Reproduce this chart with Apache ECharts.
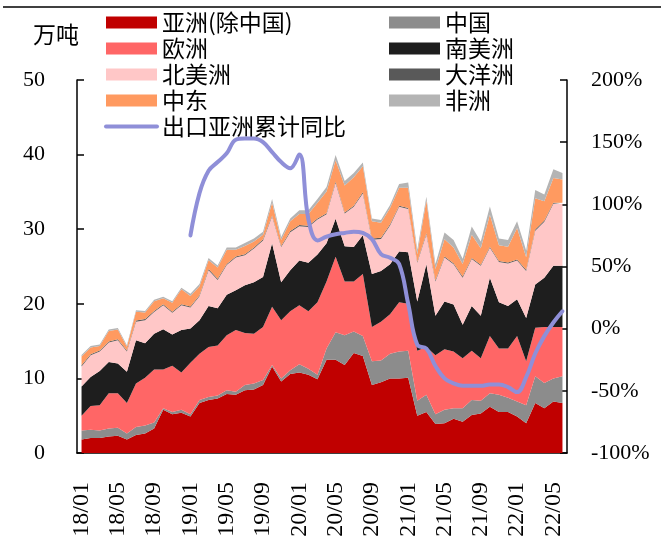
<!DOCTYPE html>
<html>
<head>
<meta charset="utf-8">
<script src="https://cdn.jsdelivr.net/npm/echarts@6/dist/echarts.min.js"></script>
<style>
  html, body { margin: 0; padding: 0; background: #fff; }
  #chart { width: 661px; height: 546px; }
</style>
</head>
<body>
<div id="chart"></div>
<script>
// Monthly categories, 2018/01 – 2022/06
const months = [
  '18/01','18/02','18/03','18/04','18/05','18/06','18/07','18/08','18/09','18/10','18/11','18/12',
  '19/01','19/02','19/03','19/04','19/05','19/06','19/07','19/08','19/09','19/10','19/11','19/12',
  '20/01','20/02','20/03','20/04','20/05','20/06','20/07','20/08','20/09','20/10','20/11','20/12',
  '21/01','21/02','21/03','21/04','21/05','21/06','21/07','21/08','21/09','21/10','21/11','21/12',
  '22/01','22/02','22/03','22/04','22/05','22/06'
];

// Export volume by destination (万吨), stacked bottom to top
const asiaExChina = [1.8,2.0,2.0,2.2,2.3,1.8,2.4,2.6,3.3,5.8,5.2,5.4,4.9,6.7,7.1,7.3,7.9,7.8,8.4,8.5,9.1,11.6,9.6,10.6,10.8,10.5,9.9,12.5,12.5,11.8,13.4,13.0,9.1,9.5,10.0,10.0,10.1,5.0,5.5,3.9,4.0,4.6,4.2,5.1,5.3,6.2,5.5,5.5,4.9,4.0,6.7,6.0,6.9,6.7];
const china       = [1.2,1.1,1.0,1.1,1.1,0.8,1.1,1.1,0.8,0.2,0.3,0.4,0.3,0.4,0.4,0.4,0.5,0.4,0.7,0.8,0.7,0.2,0.4,0.5,1.1,0.8,0.6,1.5,3.7,4.0,2.9,2.7,3.2,2.9,3.3,3.6,3.6,2.0,2.3,1.3,1.8,1.4,1.8,2.0,1.7,1.8,2.3,1.9,2.0,2.4,3.6,3.4,3.1,3.6];
const europe      = [2.0,3.2,3.4,4.7,4.6,4.1,5.8,6.4,7.1,5.2,6.2,5.0,6.9,6.2,6.7,6.7,7.4,8.3,7.0,6.7,7.1,7.8,7.8,7.9,7.9,7.7,9.7,9.0,10.1,7.2,6.7,8.3,4.6,5.2,5.3,6.6,6.3,6.7,6.4,7.9,8.1,7.6,6.7,6.6,5.7,7.7,6.2,6.6,8.8,5.9,6.5,7.5,6.9,6.6];
const southAm     = [3.9,3.9,4.6,4.2,4.0,4.2,5.8,4.6,4.8,5.4,4.2,5.7,4.6,4.5,5.5,5.0,5.4,5.3,6.4,6.9,6.7,8.5,5.1,5.5,6.0,6.5,6.4,5.1,5.1,4.7,4.6,5.2,7.1,6.8,6.7,6.8,6.9,6.6,11.1,5.3,6.4,6.3,4.5,6.0,5.7,7.8,6.2,5.7,4.9,5.8,5.8,6.6,8.2,8.2];
const northAm     = [2.7,2.9,2.6,2.6,3.1,2.7,2.5,3.1,2.9,3.2,2.9,3.3,2.8,3.2,4.8,3.8,4.0,4.4,4.0,4.5,4.9,3.6,4.7,5.1,4.6,4.8,4.7,3.9,4.8,4.4,5.4,5.6,4.6,4.3,5.2,6.0,5.8,5.2,4.0,4.6,5.9,5.4,6.3,6.3,6.7,4.0,5.4,5.7,5.2,6.3,7.2,7.5,8.3,8.3];
const oceania     = [0.15,0.15,0.15,0.15,0.15,0.15,0.15,0.15,0.15,0.15,0.15,0.15,0.15,0.15,0.15,0.15,0.15,0.15,0.15,0.15,0.15,0.15,0.15,0.15,0.15,0.15,0.15,0.15,0.15,0.15,0.15,0.15,0.15,0.15,0.15,0.15,0.15,0.15,0.15,0.15,0.15,0.15,0.15,0.15,0.15,0.15,0.15,0.15,0.15,0.15,0.15,0.15,0.15,0.15];
const middleEast  = [1.2,0.9,0.6,1.4,1.3,0.5,1.2,0.9,1.3,0.8,1.2,2.0,1.4,1.2,1.2,1.5,1.9,0.9,1.1,0.8,0.6,1.7,0.8,1.3,1.5,1.6,2.1,2.9,2.9,3.6,3.8,3.5,2.3,2.0,2.2,2.4,2.7,1.0,4.4,1.5,2.3,2.1,1.7,3.1,2.2,4.3,2.1,2.1,4.2,1.7,4.2,2.6,3.3,3.1];
const africa      = [0.2,0.2,0.2,0.2,0.2,0.2,0.2,0.2,0.2,0.2,0.2,0.2,0.3,0.3,0.3,0.3,0.3,0.3,0.4,0.4,0.4,0.5,0.4,0.4,0.5,0.5,0.5,0.6,0.7,0.6,0.6,0.5,0.4,0.4,0.4,0.5,0.7,0.6,0.5,0.7,0.9,1.0,0.7,1.1,0.9,1.1,0.9,0.9,0.9,0.9,1.1,0.9,1.2,0.9];

// Cumulative year-on-year growth of exports to Asia (%), starting 2019/01
const asiaYoY = [null,null,null,null,null,null,null,null,null,null,null,null,
  75,109,127,134,141,152,153,153,150,142,134,129,
  140,88,71,74,76,77,78,77,72,60,57,52,
  20,-13,-16,-30,-40,-44,-46,-46,-46,-45,-45,-47,
  -51,-39,-20,-6,5,14];

// Left axis and right axis ticks
const leftTicks  = { min: 0, max: 50, step: 10 };
const rightTicks = { min: -100, max: 200, step: 50 };

const areaSeries = [
  { name: '亚洲(除中国)', data: asiaExChina, color: '#C00000' },
  { name: '中国',         data: china,       color: '#8C8C8C' },
  { name: '欧洲',         data: europe,      color: '#FF6666' },
  { name: '南美洲',       data: southAm,     color: '#1E1E1E' },
  { name: '北美洲',       data: northAm,     color: '#FFC7C7' },
  { name: '大洋洲',       data: oceania,     color: '#595959' },
  { name: '中东',         data: middleEast,  color: '#FF9A60' },
  { name: '非洲',         data: africa,      color: '#B4B4B4' }
];
const lineName = '出口亚洲累计同比';
const lineColor = '#8F8FD8';

const numFont = 'Liberation Serif';
const cjkFont = 'Noto Sans CJK SC';

const chart = echarts.init(document.getElementById('chart'), null, { renderer: 'canvas' });

const series = areaSeries.map(s => ({
  name: s.name,
  type: 'line',
  stack: 'total',
  data: s.data,
  symbol: 'none',
  lineStyle: { width: 0 },
  areaStyle: { color: s.color, opacity: 1 },
  itemStyle: { color: s.color },
  emphasis: { disabled: true },
  z: 2
}));
series.push({
  name: lineName,
  type: 'line',
  yAxisIndex: 1,
  data: asiaYoY,
  smooth: 0.4,
  symbol: 'none',
  lineStyle: { width: 4, color: lineColor, cap: 'round' },
  itemStyle: { color: lineColor },
  emphasis: { disabled: true },
  z: 5
});

const legendText = { fontFamily: cjkFont, fontSize: 23, color: '#000', lineHeight: 22 };
const rectIcon = name => ({ name: name, icon: 'rect' });

chart.setOption({
  animation: false,
  backgroundColor: '#fff',
  grid: { left: 77, right: 94, top: 80, bottom: 93, containLabel: false },
  legend: [
    {
      orient: 'vertical', left: 99, top: 6, itemWidth: 51, itemHeight: 12, itemGap: 3,
      textStyle: legendText, selectedMode: false,
      data: [rectIcon('亚洲(除中国)'), rectIcon('欧洲'), rectIcon('北美洲'), rectIcon('中东'),
             { name: lineName, itemStyle: { opacity: 0 }, lineStyle: { width: 4, color: lineColor, cap: 'round' } }]
    },
    {
      orient: 'vertical', left: 384, top: 6, itemWidth: 51, itemHeight: 12, itemGap: 3,
      textStyle: legendText, selectedMode: false,
      data: [rectIcon('中国'), rectIcon('南美洲'), rectIcon('大洋洲'), rectIcon('非洲')]
    }
  ],
  xAxis: {
    type: 'category',
    data: months,
    boundaryGap: true,
    axisLine: { lineStyle: { color: '#000', width: 1.5 } },
    axisTick: { inside: true, interval: 3, length: 7, lineStyle: { color: '#000', width: 1.5 } },
    axisLabel: { interval: 3, rotate: 90, margin: 29, fontSize: 24, fontFamily: numFont, color: '#000' },
    splitLine: { show: false }
  },
  yAxis: [
    {
      type: 'value',
      min: leftTicks.min, max: leftTicks.max, interval: leftTicks.step,
      name: '万吨', nameLocation: 'end', nameGap: 34,
      nameTextStyle: { fontFamily: cjkFont, fontSize: 23, color: '#000', align: 'right', padding: [0, -2, 0, 0] },
      axisLine: { show: true, lineStyle: { color: '#000', width: 1.5 } },
      axisTick: { show: true, inside: true, length: 7, lineStyle: { color: '#000', width: 1.5 } },
      axisLabel: { margin: 32, fontSize: 22, fontFamily: numFont, color: '#000' },
      splitLine: { show: false }
    },
    {
      type: 'value',
      position: 'right',
      min: rightTicks.min, max: rightTicks.max, interval: rightTicks.step,
      axisLine: { show: true, lineStyle: { color: '#000', width: 1.5 } },
      axisTick: { show: true, inside: true, length: 7, lineStyle: { color: '#000', width: 1.5 } },
      axisLabel: { margin: 24, fontSize: 22, fontFamily: numFont, color: '#000', formatter: '{value}%' },
      splitLine: { show: false }
    }
  ],
  graphic: [
    { type: 'line', shape: { x1: 3, y1: 7, x2: 661, y2: 7 }, style: { stroke: '#000', lineWidth: 1.5 } }
  ],
  series: series
});
</script>
</body>
</html>
